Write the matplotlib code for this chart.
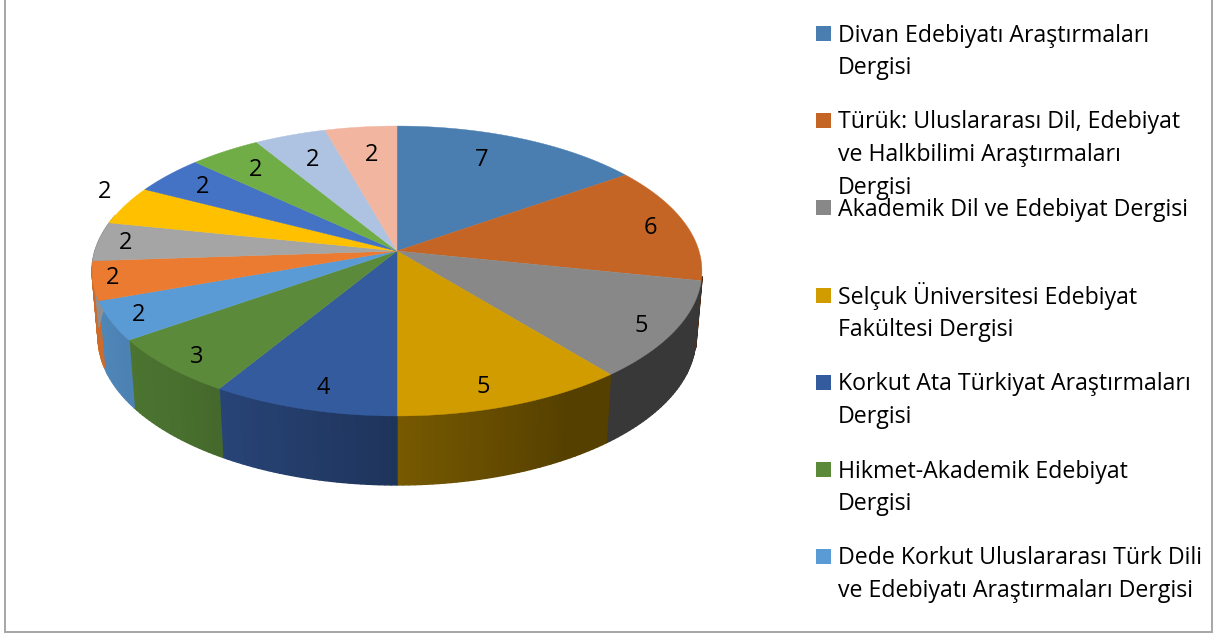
import numpy as np
import matplotlib
matplotlib.use("Agg")
import matplotlib.pyplot as plt
from matplotlib.colors import to_rgb
from matplotlib.patches import Rectangle, Polygon
from matplotlib.collections import PolyCollection

values = [7, 6, 5, 5, 4, 3, 2, 2, 2, 2, 2, 2, 2, 2]
top_colors = ["#4A7EB0", "#C46526", "#888888", "#D09C00", "#355B9F", "#5B8B3A", "#5B9BD5",
              "#EA7B30", "#A5A5A5", "#FFC000", "#4472C4", "#70AD47", "#ADC3E1", "#F2B5A0"]
legend_names = [
    ["Divan Edebiyatı Araştırmaları", "Dergisi"],
    ["Türük: Uluslararası Dil, Edebiyat", "ve Halkbilimi Araştırmaları", "Dergisi"],
    ["Akademik Dil ve Edebiyat Dergisi"],
    ["Selçuk Üniversitesi Edebiyat", "Fakültesi Dergisi"],
    ["Korkut Ata Türkiyat Araştırmaları", "Dergisi"],
    ["Hikmet-Akademik Edebiyat", "Dergisi"],
    ["Dede Korkut Uluslararası Türk Dili", "ve Edebiyatı Araştırmaları Dergisi"],
]
label_positions = [(482, 160), (650, 228), (641, 326), (483, 387), (323, 388), (197, 357), (139, 315),
                   (113, 278), (126, 243), (105, 192), (203, 187), (256, 170), (313, 160), (372, 155)]

# projection of the tilted disc onto the figure
CX, CY, FX, GY, P = 397.0, 251.0, 302.0, 142.2, 0.138
BOTTOM_SCALE, DEPTH = 0.98, 66.0
FONT = "Open Sans"


def project(theta):
    d = 1 + P * np.cos(theta)
    return CX + FX * np.sin(theta) / d, CY - GY * np.cos(theta) / d


def project_bottom(theta):
    x, y = project(theta)
    return CX + BOTTOM_SCALE * (x - CX), y + DEPTH - 3 * np.cos(theta)


def side_factor(theta):
    return np.interp(np.degrees(theta), [100, 150, 180, 220, 250, 280], [.41, .41, .57, .80, .87, .87])


fig = plt.figure(figsize=(12.15, 6.37), dpi=100)
ax = fig.add_axes([0, 0, 1, 1])
ax.set_xlim(0, 1215)
ax.set_ylim(637, 0)
ax.axis("off")

edges = np.cumsum([0] + values) / sum(values) * 2 * np.pi

# side wall, front half
for a0, a1, c in zip(edges[:-1], edges[1:], top_colors):
    lo, hi = max(a0, np.radians(100)), min(a1, np.radians(285))
    if hi <= lo:
        continue
    t = np.linspace(lo, hi, max(2, int(np.degrees(hi - lo)) + 1))
    xt, yt = project(t)
    xb, yb = project_bottom(t)
    quads, cols = [], []
    for i in range(len(t) - 1):
        quads.append([(xt[i], yt[i]), (xt[i + 1], yt[i + 1]), (xb[i + 1], yb[i + 1]), (xb[i], yb[i])])
        f = side_factor((t[i] + t[i + 1]) / 2)
        cols.append(tuple(np.array(to_rgb(c)) * f))
    ax.add_collection(PolyCollection(quads, facecolors=cols, edgecolors=cols, linewidths=1.0, zorder=2))

# top face
for a0, a1, c in zip(edges[:-1], edges[1:], top_colors):
    t = np.linspace(a0, a1, 80)
    x, y = project(t)
    pts = np.column_stack([np.r_[CX, x], np.r_[CY, y]])
    ax.add_patch(Polygon(pts, closed=True, facecolor=c, edgecolor=c, linewidth=0.3, zorder=3))

for v, (lx, ly) in zip(values, label_positions):
    ax.text(lx, ly, str(v), ha="center", va="center", fontsize=17, family=FONT, color="black", zorder=4)

# legend
swatch_y = [33, 120, 207, 295, 382, 469, 556]
for lines, c, sy in zip(legend_names, top_colors, swatch_y):
    ax.add_patch(Rectangle((816, sy - 7.5), 15, 15, facecolor=c, edgecolor="none", zorder=4))
    for i, s in enumerate(lines):
        ax.text(838, sy + 8.5 + i * 32.5, s, ha="left", va="baseline", fontsize=16.7,
                family=FONT, color="black", zorder=5)

# frame
ax.plot([5, 5, 1212, 1212], [-2, 632, 632, -2], color="#A6A6A6", lw=1.4, zorder=1, solid_joinstyle="miter")

fig.savefig("out.png", dpi=100, facecolor="white")
